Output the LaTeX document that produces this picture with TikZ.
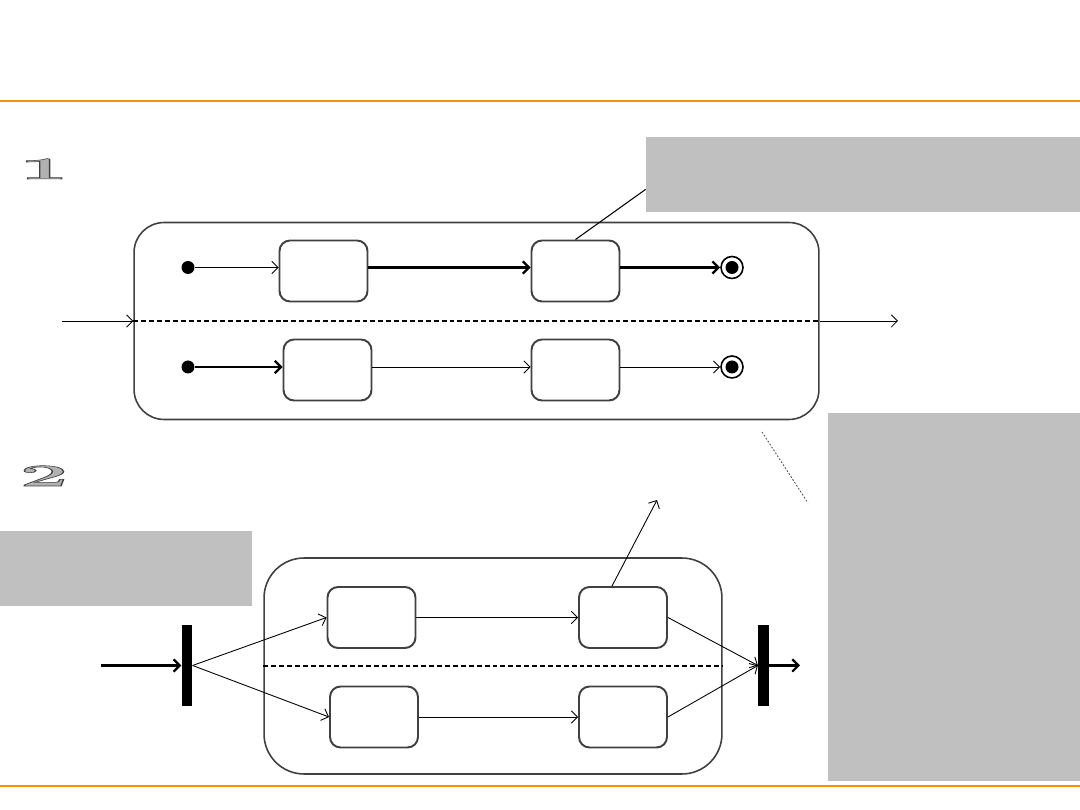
\documentclass[tikz,border=0pt]{standalone}
\usetikzlibrary{arrows.meta}
\definecolor{notegray}{RGB}{192,192,192}
\definecolor{barorange}{RGB}{242,150,0}
\newcommand{\outlined}[1]{\special{pdf:literal direct 2 Tr 0.35 w 0.25 G}#1\special{pdf:literal direct 0 Tr}}
\tikzset{
  state/.style={draw=black!75, line width=1.1pt, rounded corners=6pt, minimum width=1.76cm, minimum height=1.22cm, inner sep=0pt},
  startdot/.style={circle, fill=black, minimum size=0.26cm, inner sep=0pt},
  enddot/.style={circle, draw, line width=0.9pt, minimum size=0.44cm, inner sep=0pt,
    path picture={\fill (path picture bounding box.center) circle (0.13cm);}},
  note/.style={fill=notegray, inner sep=0pt},
  syncbar/.style={fill=black, minimum width=0.21cm, minimum height=1.62cm, inner sep=0pt},
  region/.style={draw=black!75, line width=0.9pt, inner sep=0pt},
  flow/.style={line width=0.5pt, -{Straight Barb[length=3.5pt,width=7pt]}},
  flowbold/.style={line width=1.3pt, -{Straight Barb[length=3.5pt,width=7pt]}},
  split/.style={line width=1.1pt, dash pattern=on 2.8pt off 1.7pt},
  digit/.style={font=\bfseries\huge, text=black!30, inner sep=0pt}
}
\begin{document}
\begin{tikzpicture}[x=0.02cm,y=-0.02cm]
    \useasboundingbox (0,0) rectangle (1080,810);
    \draw[barorange, line width=1.1pt] (0,101) -- (1080,101);
    \draw[barorange, line width=1.1pt] (0,786) -- (1080,786);
    % notes
    \node[note, minimum width=8.68cm, minimum height=1.5cm] (n1) at (863,174.5) {};
    \node[note, minimum width=5.04cm, minimum height=1.5cm] (n2) at (126,568.5) {};
    \node[note, minimum width=5.04cm, minimum height=7.36cm] (n3) at (954,597) {};
    \node[digit, anchor=base] (d1) at (44,179) {\scalebox{2.4}[0.85]{\outlined{1}}};
    \node[digit, anchor=base] (d2) at (44,486) {\scalebox{2.4}[0.85]{\outlined{2}}};
    % part 1
    \node[region, rounded corners=0.6cm, minimum width=13.7cm, minimum height=3.94cm] (c1) at (476.5,321) {};
    \coordinate (in1) at (62,321); \coordinate (out1) at (898,321);
    \node[startdot] (i1) at (188,267.5) {};
    \node[state] (s1) at (323.5,271) {}; \node[state] (s2) at (575.5,271) {};
    \node[enddot] (f1) at (732,267.5) {};
    \node[startdot] (i2) at (188,367) {};
    \node[state] (s3) at (327.5,370) {}; \node[state] (s4) at (575.5,370) {};
    \node[enddot] (f2) at (732,367) {};
    \draw[flow] (in1) -- (c1.west); \draw[split] (c1.west) -- (c1.east);
    \draw[flow] (c1.east) -- (out1);
    \draw[flow] (i1) -- (i1 -| s1.west); \draw[flowbold] (s1.east |- i1) -- (s2.west |- i1);
    \draw[flowbold] (s2.east |- i1) -- (f1.west);
    \draw[flowbold] (i2) -- (i2 -| s3.west); \draw[flow] (s3.east |- i2) -- (s4.west |- i2);
    \draw[flow] (s4.east |- i2) -- (f2.west);
    \draw[line width=0.6pt] ([yshift=0.46cm]n1.south west) -- (s2.north);
    \coordinate (dt1) at (762,432); \coordinate (dt2) at (808,503);
    \draw[black!70, line width=0.5pt, dash pattern=on 1pt off 1pt] (dt1) -- (dt2);
    % part 2
    \node[region, rounded corners=0.8cm, minimum width=9.16cm, minimum height=4.32cm] (c2) at (493,666) {};
    \draw[split] (c2.west) -- (c2.east);
    \node[syncbar] (fork) at (187,665.5) {}; \node[syncbar] (join) at (763.5,665.5) {};
    \coordinate (in2) at (101,665.5); \coordinate (out2) at (800,665.5);
    \node[state] (t1) at (371.5,617.5) {}; \node[state] (t2) at (623,617.5) {};
    \node[state] (t3) at (374,717) {}; \node[state] (t4) at (623,717) {};
    \draw[flowbold] (in2) -- (fork.west);
    \draw[flow] (fork.east) -- (t1.west); \draw[flow] (fork.east) -- (t3.west);
    \draw[flow] (t1) -- (t2); \draw[flow] (t3) -- (t4);
    \draw[flow] (t2.east) -- (join.west); \draw[flow] (t4.east) -- (join.west);
    \draw[flowbold] (join.east) -- (out2);
    \coordinate (up) at (657,500);
    \draw[flow] ([xshift=-0.22cm]t2.north) -- (up);
  \end{tikzpicture}
\end{document}
